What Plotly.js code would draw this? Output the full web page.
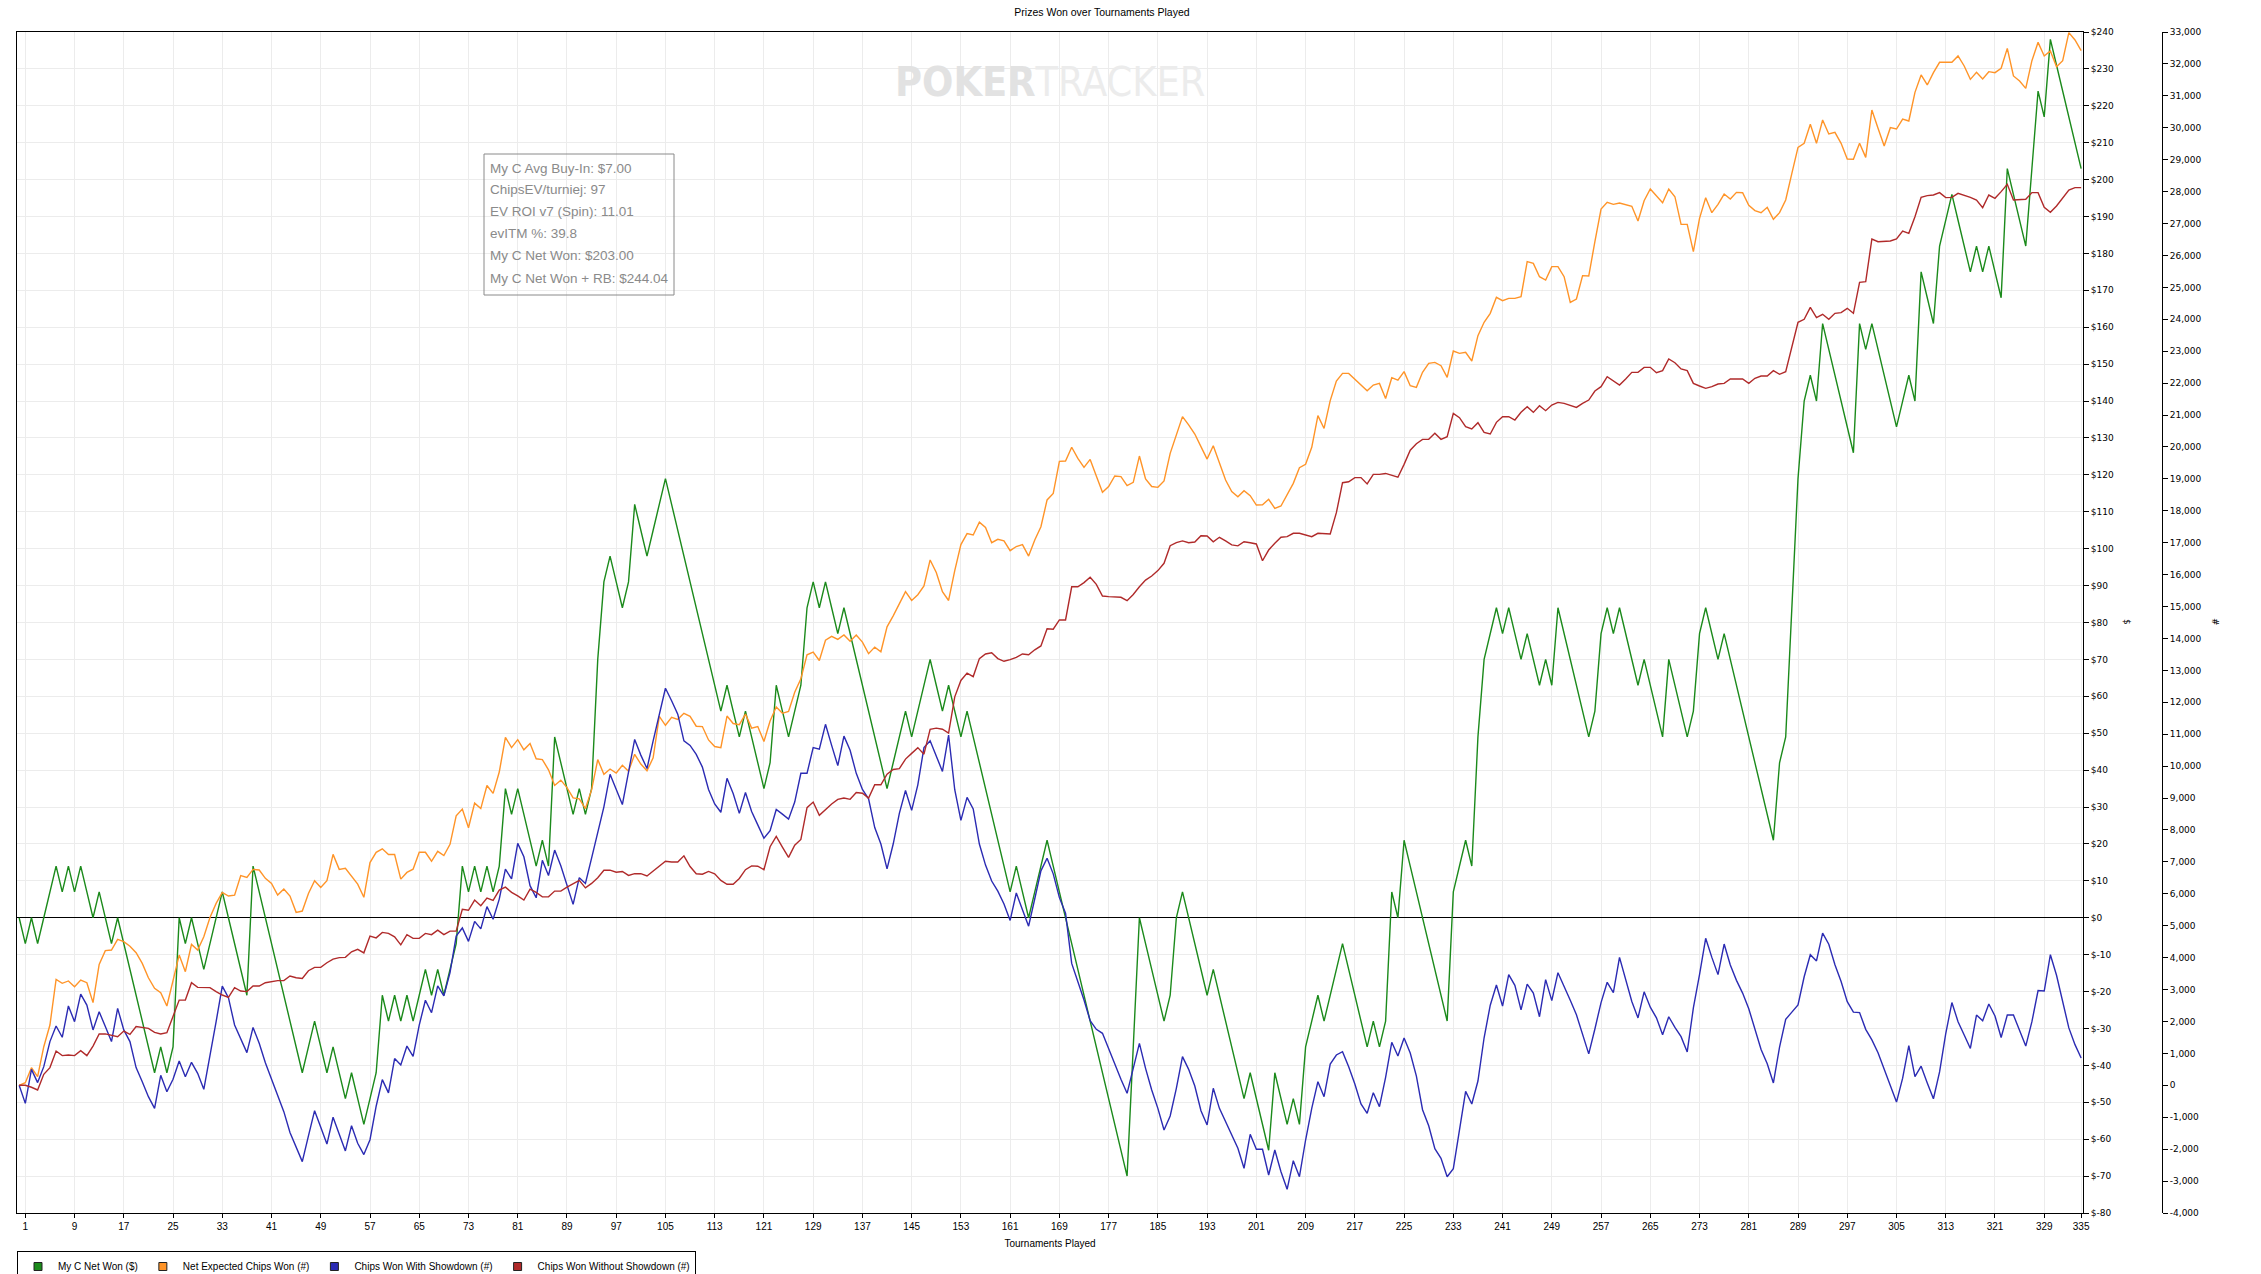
<!DOCTYPE html>
<html>
<head>
<meta charset="utf-8">
<script src="https://cdn.plot.ly/plotly-3.0.1.min.js"></script>
<style>
  html, body { margin: 0; padding: 0; background: #ffffff; }
  #chart { width: 2261px; height: 1274px; }
</style>
</head>
<body>
<div id="chart"></div>
<script>
// ---- Data (tournament index 0..335) ----
const seriesNames = ["My C Net Won ($)", "Net Expected Chips Won (#)", "Chips Won With Showdown (#)", "Chips Won Without Showdown (#)"];

// My C Net Won ($) - left scale ($)
const netWon = [
  0,-7,0,-7,0,7,14,7,14,7,14,7,0,7,0,-7,0,-7,-14,-21,-28,-35,-42,-35,-42,-35,0,-7,0,-7,
  -14,-7,0,7,0,-7,-14,-21,14,7,0,-7,-14,-21,-28,-35,-42,-35,-28,-35,-42,-35,-42,-49,-42,-49,-56,-49,-42,-21,
  -28,-21,-28,-21,-28,-21,-14,-21,-14,-21,-14,-7,14,7,14,7,14,7,14,35,28,35,28,21,14,21,14,49,42,35,
  28,35,28,35,70,91,98,91,84,91,112,105,98,105,112,119,112,105,98,91,84,77,70,63,56,63,56,49,56,49,
  42,35,42,63,56,49,56,63,84,91,84,91,84,77,84,77,70,63,56,49,42,35,42,49,56,49,56,63,70,63,
  56,63,56,49,56,49,42,35,28,21,14,7,14,7,0,7,14,21,14,7,0,-7,-14,-21,-28,-35,-42,-49,-56,-63,
  -70,-35,0,-7,-14,-21,-28,-21,0,7,0,-7,-14,-21,-14,-21,-28,-35,-42,-49,-42,-49,-56,-63,-42,-49,-56,-49,-56,-35,
  -28,-21,-28,-21,-14,-7,-14,-21,-28,-35,-28,-35,-28,7,0,21,14,7,0,-7,-14,-21,-28,7,14,21,14,49,70,77,
  84,77,84,77,70,77,70,63,70,63,84,77,70,63,56,49,56,77,84,77,84,77,70,63,70,63,56,49,70,63,
  56,49,56,77,84,77,70,77,70,63,56,49,42,35,28,21,42,49,84,119,140,147,140,161,154,147,140,133,126,161,
  154,161,154,147,140,133,140,147,140,175,168,161,182,189,196,189,182,175,182,175,182,175,168,203,196,189,182,203,224,217,
  238,231,224,217,210,203
];

// Net Expected Chips Won (#) - right scale (chips)
const expectedChips = [
  0,80,553,270,1210,1890,3320,3195,3270,3090,3300,3215,2590,3790,4220,4240,4570,4500,4360,4155,3820,3370,3040,2900,2485,3300,4080,3560,4415,4240,
  4655,5260,5700,6045,5930,5960,6570,6515,6765,6745,6485,6325,5960,6150,5930,5420,5460,6010,6410,6200,6410,7235,6765,6800,6555,6305,5890,6980,7300,7410,
  7230,7230,6460,6670,6770,7300,7300,7020,7330,7200,7550,8445,8655,8070,8840,8670,9395,9145,9815,10900,10580,10830,10510,10710,10230,10205,9885,9395,9560,9325,
  9005,8975,8670,9255,10205,9745,9910,9785,10025,9840,10370,10065,9855,10260,11560,11280,11530,11465,11655,11560,11250,11240,10820,10615,10580,11570,11335,11300,11630,11190,
  11240,10770,11415,11850,11655,11715,12315,12735,13490,13575,13310,13945,14065,13970,14110,13910,14110,13885,13525,13730,13585,14365,14710,15085,15465,15190,15370,15645,16460,16065,
  15465,15190,16125,16940,17285,17240,17645,17475,17000,17105,17060,16750,16880,16940,16580,17085,17500,18340,18545,19550,19560,19990,19640,19360,19610,19090,18580,18760,19090,19070,
  18790,18890,19715,18995,18760,18735,18935,19800,20375,20950,20690,20405,20010,19620,20040,19510,18965,18600,18440,18630,18475,18180,18190,18360,18075,18150,18495,18860,19350,19455,
  19990,20980,20580,21450,22065,22305,22305,22120,21940,21760,21940,21990,21520,22170,22090,22360,21920,21867,22337,22620,22650,22546,22180,23006,22932,22964,22692,23486,23904,24186,
  24687,24582,24656,24656,24708,25804,25752,25334,25230,25648,25648,25334,24530,24635,25366,25355,26431,27454,27663,27600,27642,27580,27538,27078,27715,28081,27872,27653,28081,27840,
  26974,26974,26117,27162,27809,27339,27600,27924,27768,27976,27966,27570,27403,27340,27507,27131,27340,27737,28572,29387,29512,30107,29512,30243,29805,29857,29512,29021,29011,29512,
  29073,30556,29982,29429,30003,29961,30274,30212,31110,31653,31340,31726,32050,32050,32050,32248,31935,31517,31737,31528,31757,31726,31862,32488,31622,31465,31235,32102,32676,32248,
  32405,31914,32102,32979,32749,32415
];

// Chips Won With Showdown (#) - right scale (chips)
const chipsShowdown = [
  0,-565,500,85,585,1370,1860,1505,2485,1995,2860,2515,1735,2305,1840,1370,2410,1735,1370,555,115,-355,-720,315,-200,190,760,270,720,375,
  -125,900,1995,3110,2745,1890,1470,1025,1815,1315,710,190,-300,-825,-1480,-1920,-2390,-1585,-795,-1315,-1840,-1000,-1535,-2055,-1265,-1815,-2170,-1705,-655,180,
  -235,840,640,1230,905,1885,2665,2275,3115,2805,3530,4675,4930,4510,5135,4900,5600,5205,5835,6770,6465,7580,7160,6255,5875,7050,6575,7370,6880,6255,
  5670,6505,6325,7120,7930,8725,9745,9285,8795,9815,10835,10345,9925,10790,11600,12440,12050,11630,10790,10650,10370,9970,9270,8815,8555,9620,9140,8520,9175,8580,
  8160,7740,7980,8640,8495,8340,8875,9775,9775,10580,10530,11310,10650,10015,10940,10495,9775,9270,8975,8075,7560,6780,7560,8520,9235,8615,9415,10580,10795,10315,
  9835,10975,9260,8300,9020,8660,7560,6900,6400,6085,5680,5165,6025,5500,4985,5845,6720,7115,6625,5880,5390,3820,3250,2673,2025,1755,1629,1127,637,188,
  -251,563,1315,532,-146,-721,-1400,-961,-94,898,501,-21,-794,-1243,-94,-721,-1139,-1504,-1974,-2600,-1535,-2005,-2005,-2810,-2026,-2705,-3258,-2360,-2862,-1713,
  -721,115,-355,668,950,1055,584,41,-585,-877,-230,-669,250,1347,920,1480,1010,291,-764,-1268,-1987,-2287,-2863,-2611,-1411,-188,-584,135,1490,2509,
  3144,2485,3468,3132,2365,3168,2893,2149,3312,2653,3528,3108,2665,2209,1610,986,1766,2593,3228,2905,4008,3348,2629,2113,2929,2449,2113,1586,2149,1814,
  1526,1046,2425,3468,4607,4008,3468,4427,3768,3288,2890,2400,1754,1124,674,75,1199,2068,2293,2518,3402,4092,3897,4766,4422,3777,3252,2623,2293,2278,
  1754,1424,1019,524,0,-525,225,1244,270,600,75,-420,420,1619,2593,1994,1574,1154,2203,2023,2548,2173,1499,2203,2203,1724,1229,1994,2968,2953,
  4092,3447,2653,1799,1274,854
];

// Chips Won Without Showdown (#) - right scale (chips)
const chipsNoShowdown = [
  0,0,-60,-145,345,555,1075,930,950,930,1085,930,1230,1610,1610,1575,1525,1700,1595,1840,1815,1785,1660,1610,1650,2150,2670,2670,3215,3070,
  3070,3060,2935,2830,2755,3060,2955,2935,3110,3110,3215,3245,3280,3280,3425,3370,3350,3590,3695,3695,3840,3955,4000,4010,4185,4260,4150,4675,4620,4790,
  4760,4650,4400,4720,4605,4605,4760,4720,4860,4720,4830,4830,5515,5485,5805,5625,5865,5795,6115,6210,6045,5935,5805,6145,6045,5905,5905,6085,6085,6210,
  6325,6420,6185,6325,6505,6740,6740,6675,6700,6575,6630,6630,6560,6715,6880,7020,6995,6995,7190,6855,6630,6615,6700,6625,6420,6300,6300,6480,6755,6875,
  6865,6755,7475,7800,7465,7140,7525,7705,8700,8875,8460,8640,8815,8960,9000,8960,9175,9150,9000,9415,9415,9750,9895,9920,10220,10400,10580,10375,11155,11190,
  11155,11035,12170,12685,12915,12805,13370,13515,13550,13370,13285,13335,13405,13515,13490,13645,13765,14305,14290,14580,14580,15620,15620,15750,15915,15695,15330,15310,15310,15290,
  15185,15380,15620,15830,15955,16125,16355,16905,17000,17055,17000,17020,17220,17210,17030,17170,17055,16930,16900,17030,17000,16960,16435,16770,16980,17170,17190,17295,17295,17240,
  17190,17295,17295,17275,17940,18880,18910,19040,19040,18840,19140,19140,19170,19120,19050,19455,19900,20100,20238,20238,20426,20238,20322,21053,20917,20635,20562,20760,20457,20405,
  20771,20948,20948,20844,21084,21261,21084,21293,21136,21314,21397,21366,21314,21240,21366,21470,21752,21888,22201,22066,21940,22128,22337,22337,22494,22494,22327,22389,22755,22640,
  22442,22389,21992,21909,21836,21888,21972,21992,22128,22128,22128,21992,22150,22223,22223,22390,22275,22359,23090,23904,23998,24374,24050,24155,23998,24186,24207,24343,24186,25157,
  25178,26515,26431,26431,26452,26515,26766,26693,27215,27820,27873,27893,27967,27810,27820,27946,27893,27820,27737,27497,27893,27789,27998,28228,27737,27737,27758,27967,27967,27507,
  27350,27549,27789,28050,28123,28123
];

// Tick values / labels
const xTickVals = [1,9,17,25,33,41,49,57,65,73,81,89,97,105,113,121,129,137,145,153,161,169,177,185,193,201,209,217,225,233,241,249,257,265,273,281,289,297,305,313,321,329,335];
const dollarTickVals = [240,230,220,210,200,190,180,170,160,150,140,130,120,110,100,90,80,70,60,50,40,30,20,10,0,-10,-20,-30,-40,-50,-60,-70,-80];
const dollarTickText = ["$240","$230","$220","$210","$200","$190","$180","$170","$160","$150","$140","$130","$120","$110","$100","$90","$80","$70","$60","$50","$40","$30","$20","$10","$0","$-10","$-20","$-30","$-40","$-50","$-60","$-70","$-80"];
const chipTickVals = [33000,32000,31000,30000,29000,28000,27000,26000,25000,24000,23000,22000,21000,20000,19000,18000,17000,16000,15000,14000,13000,12000,11000,10000,9000,8000,7000,6000,5000,4000,3000,2000,1000,0,-1000,-2000,-3000,-4000];
const chipTickText = ["33,000","32,000","31,000","30,000","29,000","28,000","27,000","26,000","25,000","24,000","23,000","22,000","21,000","20,000","19,000","18,000","17,000","16,000","15,000","14,000","13,000","12,000","11,000","10,000","9,000","8,000","7,000","6,000","5,000","4,000","3,000","2,000","1,000","0","-1,000","-2,000","-3,000","-4,000"];

const statsLines = [
  "My C Avg Buy-In: $7.00",
  "ChipsEV/turniej: 97",
  "EV ROI v7 (Spin): 11.01",
  "evITM %: 39.8",
  "My C Net Won: $203.00",
  "My C Net Won + RB: $244.04"
];

const chartTitle = "Prizes Won over Tournaments Played";
const xTitle = "Tournaments Played";

// ---- Build ----
const tournaments = netWon.map((_, i) => i);
const colors = ["#1b8a1b", "#ff9428", "#2b2bb3", "#b02a2a"];

const W = 2261, H = 1274;
const mL = 17, mR = 99, mT = 32, mB = 61;
const paperW = W - mL - mR;      // 2145
const paperH = H - mT - mB;      // 1181
const plotRight = 2083;
const px2x = px => (px - mL) / paperW;
const px2y = py => (H - mB - py) / paperH;

const lineTrace = (y, name, color, axis) => ({
  type: "scatter", mode: "lines", x: tournaments, y: y, name: name,
  yaxis: axis, line: { color: color, width: 1.4 }, showlegend: false,
  hoverinfo: "x+y+name"
});

const traces = [
  lineTrace(netWon, seriesNames[0], colors[0], "y"),
  lineTrace(expectedChips, seriesNames[1], colors[1], "y2"),
  lineTrace(chipsShowdown, seriesNames[2], colors[2], "y2"),
  lineTrace(chipsNoShowdown, seriesNames[3], colors[3], "y2")
];
// legend entries (square swatches)
seriesNames.forEach((nm, i) => {
  traces.push({
    type: "scatter", mode: "markers", x: [null], y: [null], name: nm,
    yaxis: i === 0 ? "y" : "y2",
    marker: { symbol: "square", size: 8, color: colors[i], line: { color: "#222", width: 1 } },
    showlegend: true, hoverinfo: "skip"
  });
});

const annotations = statsLines.map((t, i) => ({
  xref: "paper", yref: "paper",
  x: px2x(488), y: px2y(168 + i * 22),
  xanchor: "left", yanchor: "middle",
  text: t, showarrow: false,
  font: { family: "Liberation Sans, Arial, sans-serif", size: 13.5, color: "#8a8a8a" }
}));
annotations.push({
  xref: "paper", yref: "paper", x: px2x(1050), y: px2y(82),
  xanchor: "center", yanchor: "middle", showarrow: false,
  text: "<b><span style='color:#e2e2e2'>POKER</span></b><span style='color:#ececec'>TRACKER</span>",
  font: { family: "Liberation Sans Narrow, DejaVu Sans Condensed, Arial Narrow, sans-serif", size: 41, color: "#e6e6e6" }
});
annotations.push({
  xref: "paper", yref: "paper", x: px2x(2127), y: px2y(622),
  xanchor: "center", yanchor: "middle", showarrow: false, textangle: 90,
  text: "$", font: { family: "DejaVu Sans, sans-serif", size: 9, color: "#000" }
});
annotations.push({
  xref: "paper", yref: "paper", x: px2x(2215), y: px2y(622),
  xanchor: "center", yanchor: "middle", showarrow: false, textangle: 90,
  text: "#", font: { family: "DejaVu Sans, sans-serif", size: 9, color: "#000" }
});

const layout = {
  width: W, height: H,
  margin: { l: mL, r: mR, t: mT, b: mB, pad: 0, autoexpand: false },
  paper_bgcolor: "#ffffff", plot_bgcolor: "#ffffff",
  font: { family: "Liberation Sans, Arial, sans-serif", size: 10, color: "#000" },
  title: {
    text: chartTitle, xref: "container", yref: "container",
    x: 1102 / W, y: 1 - 12 / H, xanchor: "center", yanchor: "middle",
    font: { family: "Liberation Sans, Arial, sans-serif", size: 10.5, color: "#000" }
  },
  showlegend: true,
  legend: {
    orientation: "h", x: 0, xanchor: "left", y: px2y(1251), yanchor: "top",
    bgcolor: "#ffffff", bordercolor: "#000000", borderwidth: 1,
    font: { family: "Liberation Sans, Arial, sans-serif", size: 10, color: "#000" },
    itemwidth: 30, tracegroupgap: 0
  },
  xaxis: {
    domain: [0, px2x(plotRight)],
    range: [-0.35, 335.3],
    tickmode: "array", tickvals: xTickVals, ticktext: xTickVals.map(String),
    showgrid: true, gridcolor: "#ececec", gridwidth: 1,
    zeroline: false,
    showline: true, linecolor: "#000", linewidth: 1, mirror: true,
    ticks: "outside", ticklen: 4, tickcolor: "#000",
    tickfont: { family: "Liberation Sans, Arial, sans-serif", size: 10, color: "#000" },
    title: { text: xTitle, standoff: 8, font: { family: "Liberation Sans, Arial, sans-serif", size: 10, color: "#000" } }
  },
  yaxis: {
    side: "right", anchor: "x",
    range: [-80, 240],
    tickmode: "array", tickvals: dollarTickVals, ticktext: dollarTickText,
    showgrid: true, gridcolor: "#ececec", gridwidth: 1,
    zeroline: true, zerolinecolor: "#000", zerolinewidth: 1,
    showline: true, linecolor: "#000", linewidth: 1, mirror: true,
    ticks: "outside", ticklen: 5, tickcolor: "#000",
    tickfont: { family: "DejaVu Sans, sans-serif", size: 9, color: "#000" }
  },
  yaxis2: {
    overlaying: "y", side: "right", anchor: "free", position: 1,
    range: [-4000, 33000],
    tickmode: "array", tickvals: chipTickVals, ticktext: chipTickText,
    showgrid: false, zeroline: false,
    showline: true, linecolor: "#000", linewidth: 1,
    ticks: "outside", ticklen: 5, tickcolor: "#000",
    tickfont: { family: "DejaVu Sans, sans-serif", size: 9, color: "#000" }
  },
  shapes: [{
    type: "rect", xref: "paper", yref: "paper",
    x0: px2x(484), x1: px2x(674), y0: px2y(295), y1: px2y(154),
    line: { color: "#8a8a8a", width: 1 }, fillcolor: "rgba(255,255,255,0)", layer: "above"
  }],
  annotations: annotations
};

Plotly.newPlot("chart", traces, layout, { displayModeBar: false, staticPlot: true });
</script>
</body>
</html>
